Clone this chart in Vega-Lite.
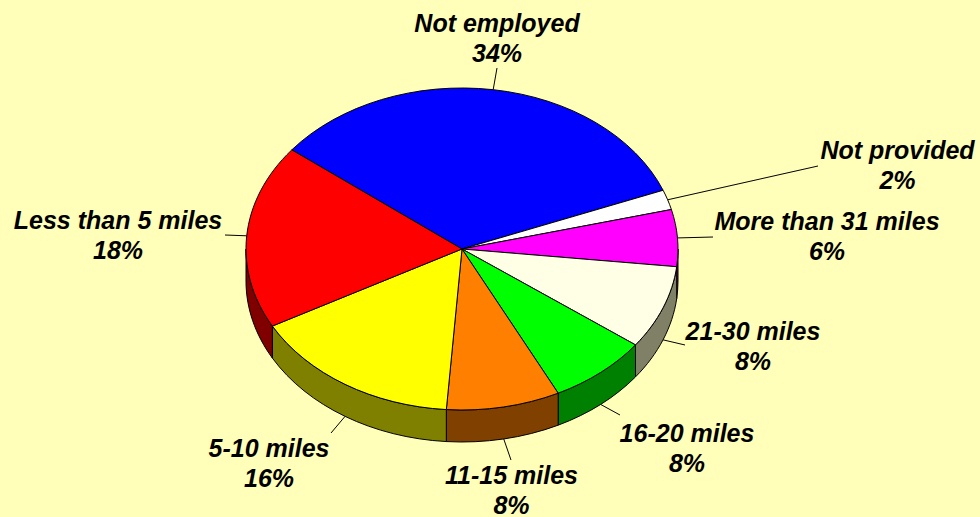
{
"$schema":"https://vega.github.io/schema/vega-lite/v6.json",
"width":980,"height":517,"padding":0,"autosize":"none","background":"#FFFFB9",
"config":{"view":{"stroke":null}},
"data":{"values":[
{"order":1,"slice":"Not employed","value":33.5,"pct":"34%"},
{"order":2,"slice":"Not provided","value":2,"pct":"2%"},
{"order":3,"slice":"More than 31 miles","value":5.7,"pct":"6%"},
{"order":4,"slice":"21-30 miles","value":8.4,"pct":"8%"},
{"order":5,"slice":"16-20 miles","value":7.5,"pct":"8%"},
{"order":6,"slice":"11-15 miles","value":8.5,"pct":"8%"},
{"order":7,"slice":"5-10 miles","value":15.9,"pct":"16%"},
{"order":8,"slice":"Less than 5 miles","value":18.5,"pct":"18%"}
]},
"transform":[
{"window":[{"op":"sum","field":"value","as":"cum"}],"sort":[{"field":"order","order":"ascending"}]},
{"calculate":"-142+3.6*datum.cum","as":"t1"},
{"calculate":"datum.t1-3.6*datum.value","as":"t0"},
{"calculate":"(datum.t0+datum.t1)/2*PI/180","as":"tm"},
{"calculate":"216*cos(datum.t0*PI/180)+','+161*sin(datum.t0*PI/180)","as":"p0"},
{"calculate":"216*cos(datum.t1*PI/180)+','+161*sin(datum.t1*PI/180)","as":"p1"},
{"calculate":"'M0,0L'+datum.p0+'A216,161 0 0 1 '+datum.p1+'Z'","as":"topPath"},
{"calculate":"max(datum.t0,0)*PI/180","as":"wa"},
{"calculate":"min(datum.t1,180)*PI/180","as":"wb"},
{"calculate":"'M'+216*cos(datum.wa)+','+161*sin(datum.wa)+'A216,161 0 0 1 '+216*cos(datum.wb)+','+161*sin(datum.wb)+'L'+216*cos(datum.wb)+','+(161*sin(datum.wb)+32)+'A216,161 0 0 0 '+216*cos(datum.wa)+','+(161*sin(datum.wa)+32)+'Z'","as":"wallPath"},
{"calculate":"({'Not employed':[35,-225],'Not provided':[435.5,-98],'More than 31 miles':[365,-27],'21-30 miles':[291,83],'16-20 miles':[225,185],'11-15 miles':[49.5,227],'5-10 miles':[-193,200],'Less than 5 miles':[-344,-28]})[datum.slice]","as":"lab"},
{"calculate":"({'Not employed':[35,-181],'Not provided':[356,-83],'More than 31 miles':[251,-12],'21-30 miles':[223,96],'16-20 miles':[158,166],'11-15 miles':[49,211],'5-10 miles':[-131,184],'Less than 5 miles':[-237,-14]})[datum.slice]","as":"lead"},
{"calculate":"datum.lab[0]","as":"lx"},
{"calculate":"datum.lab[1]","as":"ly"},
{"calculate":"datum.lead[0]","as":"ex"},
{"calculate":"datum.lead[1]","as":"ey"},
{"calculate":"216*cos(datum.tm)","as":"sx"},
{"calculate":"161*sin(datum.tm)+(sin(datum.tm)>0?32:0)","as":"sy"},
{"calculate":"datum.slice+'\\n'+datum.pct","as":"text"}
],
"layer":[
{"transform":[{"filter":"datum.wa<datum.wb"}],
 "mark":{"type":"point","filled":true,"opacity":1,"stroke":"#000000","strokeWidth":1},
 "encoding":{
 "x":{"datum":0,"type":"quantitative","scale":{"domain":[-462,518],"range":[0,980]},"axis":null},
 "y":{"datum":0,"type":"quantitative","scale":{"domain":[-249,268],"range":[0,517]},"axis":null},
 "size":{"value":4},
 "shape":{"field":"wallPath","type":"nominal","scale":null,"legend":null},
 "fill":{"field":"slice","type":"nominal","legend":null,"scale":{"domain":["Not employed","Not provided","More than 31 miles","21-30 miles","16-20 miles","11-15 miles","5-10 miles","Less than 5 miles"],"range":["#000080","#808080","#800080","#808066","#008000","#804000","#808000","#800000"]}}
 }},
{"mark":{"type":"point","filled":true,"opacity":1,"stroke":"#000000","strokeWidth":1},
 "encoding":{
 "x":{"datum":0,"type":"quantitative","scale":{"domain":[-462,518],"range":[0,980]},"axis":null},
 "y":{"datum":0,"type":"quantitative","scale":{"domain":[-249,268],"range":[0,517]},"axis":null},
 "size":{"value":4},
 "shape":{"field":"topPath","type":"nominal","scale":null,"legend":null},
 "fill":{"field":"slice","type":"nominal","legend":null,"scale":{"domain":["Not employed","Not provided","More than 31 miles","21-30 miles","16-20 miles","11-15 miles","5-10 miles","Less than 5 miles"],"range":["#0000FF","#FFFFFF","#FF00FF","#FFFFE6","#00FF00","#FF8000","#FFFF00","#FF0000"]}}
 }},
{"mark":{"type":"rule","stroke":"#000000","strokeWidth":1},
 "encoding":{
 "x":{"field":"sx","type":"quantitative","scale":{"domain":[-462,518],"range":[0,980]},"axis":null},
 "y":{"field":"sy","type":"quantitative","scale":{"domain":[-249,268],"range":[0,517]},"axis":null},
 "x2":{"field":"ex"},"y2":{"field":"ey"}
 }},
{"mark":{"type":"text","font":"Liberation Sans","fontWeight":"bold","fontStyle":"italic","fontSize":25,"lineBreak":"\n","lineHeight":30,"align":"center","baseline":"middle","fill":"#000000"},
 "encoding":{
 "x":{"field":"lx","type":"quantitative","scale":{"domain":[-462,518],"range":[0,980]},"axis":null},
 "y":{"field":"ly","type":"quantitative","scale":{"domain":[-249,268],"range":[0,517]},"axis":null},
 "text":{"field":"text"}
 }}
],
"resolve":{"scale":{"fill":"independent","shape":"independent"}}
}
